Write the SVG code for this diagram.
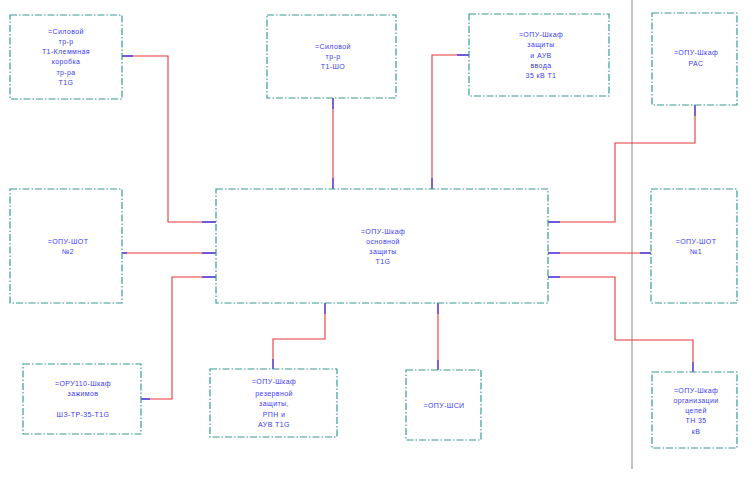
<svg xmlns="http://www.w3.org/2000/svg" width="751" height="477" viewBox="0 0 751 477">
<style>
.node{fill:#fff;stroke:#3a9a92;stroke-width:1.2;stroke-dasharray:7,2,1.5,2}
.t{font-family:"Liberation Sans",Arial,sans-serif;font-size:7px;fill:#3c3cf0;text-anchor:middle;letter-spacing:0.4px}
.w{fill:none;stroke:#e8393a;stroke-width:1.1}
.b{fill:none;stroke:#4646ee;stroke-width:1.3}
</style>
<rect width="751" height="477" fill="#fff"/>
<line x1="632" y1="0" x2="632" y2="469" stroke="#8a8a8a" stroke-width="1"/>
<g id="connectors">
<path class="w" d="M122,56 H168 V222 H216"/>
<path class="b" d="M122,56 H133 M202,222 H216"/>
<path class="w" d="M122,253 H216"/>
<path class="b" d="M122,253 H127 M202,253 H216"/>
<path class="w" d="M216,277 H172 V399 H141"/>
<path class="b" d="M216,277 H202 M141,399 H150"/>
<path class="w" d="M333,98 V189"/>
<path class="b" d="M333,98 V109 M333,178 V189"/>
<path class="w" d="M469,55 H432 V189"/>
<path class="b" d="M469,55 H457 M432,178 V189"/>
<path class="w" d="M695,105 V143 H615 V222 H548"/>
<path class="b" d="M695,105 V116 M548,222 H560"/>
<path class="w" d="M548,253 H651"/>
<path class="b" d="M548,253 H560 M640,253 H651"/>
<path class="w" d="M548,277 H615 V340 H693 V372"/>
<path class="b" d="M548,277 H560 M693,362 V372"/>
<path class="w" d="M325,303 V339 H273 V369"/>
<path class="b" d="M325,303 V314 M273,359 V369"/>
<path class="w" d="M438,303 V370"/>
<path class="b" d="M438,303 V314 M438,360 V370"/>
</g>
<g id="n1"><rect class="node" x="10" y="15" width="112" height="84"/>
<text class="t" x="66" y="34">=Силовой</text><text class="t" x="66" y="44">тр-р</text><text class="t" x="66" y="54">Т1-Клеммная</text><text class="t" x="66" y="64">коробка</text><text class="t" x="66" y="75">тр-ра</text><text class="t" x="66" y="85">Т1G</text></g>
<g id="n2"><rect class="node" x="267" y="15" width="129" height="83"/>
<text class="t" x="333" y="49">=Силовой</text><text class="t" x="333" y="59">тр-р</text><text class="t" x="333" y="69">Т1-ШО</text></g>
<g id="n3"><rect class="node" x="469" y="14" width="140" height="82"/>
<text class="t" x="541" y="37">=ОПУ-Шкаф</text><text class="t" x="541" y="47">защиты</text><text class="t" x="541" y="58">и АУВ</text><text class="t" x="541" y="68">ввода</text><text class="t" x="541" y="78">35 кВ Т1</text></g>
<g id="n4"><rect class="node" x="652" y="13" width="85" height="92"/>
<text class="t" x="696" y="55">=ОПУ-Шкаф</text><text class="t" x="696" y="66">РАС</text></g>
<g id="n5"><rect class="node" x="10" y="189" width="112" height="114"/>
<text class="t" x="68" y="244">=ОПУ-ШОТ</text><text class="t" x="68" y="254">№2</text></g>
<g id="n6"><rect class="node" x="216" y="189" width="332" height="114"/>
<text class="t" x="383" y="234">=ОПУ-Шкаф</text><text class="t" x="383" y="244">основной</text><text class="t" x="383" y="254">защиты</text><text class="t" x="383" y="264">Т1G</text></g>
<g id="n7"><rect class="node" x="651" y="189" width="86" height="114"/>
<text class="t" x="696" y="244">=ОПУ-ШОТ</text><text class="t" x="696" y="254">№1</text></g>
<g id="n8"><rect class="node" x="23" y="364" width="118" height="70"/>
<text class="t" x="83" y="386">=ОРУ110-Шкаф</text><text class="t" x="83" y="396">зажимов</text><text class="t" x="83" y="417">ШЗ-ТР-35-Т1G</text></g>
<g id="n9"><rect class="node" x="210" y="369" width="127" height="68"/>
<text class="t" x="274" y="384">=ОПУ-Шкаф</text><text class="t" x="274" y="396">резервной</text><text class="t" x="274" y="406">защиты,</text><text class="t" x="274" y="417">РПН и</text><text class="t" x="274" y="427">АУВ Т1G</text></g>
<g id="n10"><rect class="node" x="406" y="370" width="75" height="70"/>
<text class="t" x="444" y="408">=ОПУ-ШСИ</text></g>
<g id="n11"><rect class="node" x="652" y="372" width="85" height="76"/>
<text class="t" x="696" y="393">=ОПУ-Шкаф</text><text class="t" x="696" y="403">организации</text><text class="t" x="696" y="413">цепей</text><text class="t" x="696" y="423">ТН 35</text><text class="t" x="696" y="434">кВ</text></g>
</svg>
